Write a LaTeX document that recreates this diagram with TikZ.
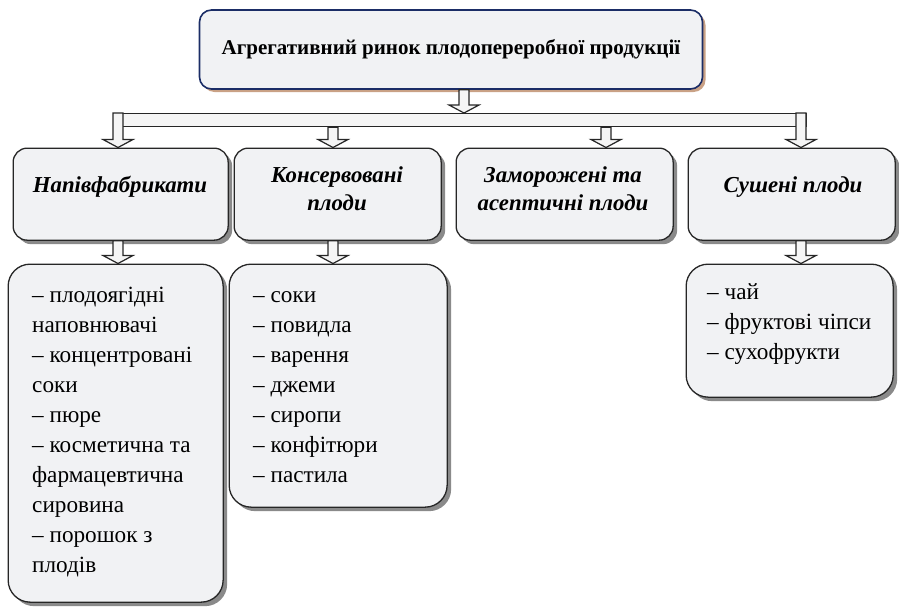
\documentclass[tikz,border=0pt]{standalone}
\usepackage{fontspec}
\setmainfont{Liberation Serif}
\usetikzlibrary{shadows,calc}
\definecolor{boxfill}{HTML}{F1F2F4}
\definecolor{navy}{HTML}{1B2D66}
\definecolor{tanshadow}{HTML}{C9A185}
\definecolor{shadowgray}{HTML}{8A8A8A}
\definecolor{arrowfill}{HTML}{F5F5F5}
\tikzset{
  topbox/.style={draw=navy, line width=1.6pt, fill=boxfill, rounded corners=12pt, inner sep=0pt,
    drop shadow={shadow xshift=3pt, shadow yshift=-3pt, fill=tanshadow, opacity=1},
    font=\fontsize{21}{25}\selectfont\bfseries},
  catbox/.style={draw=black!85, line width=1.3pt, fill=boxfill, rounded corners=14pt, inner sep=0pt,
    anchor=north west,
    drop shadow={shadow xshift=4pt, shadow yshift=-4pt, fill=shadowgray, opacity=1}},
  detbox/.style={catbox, rounded corners=22pt},
  cattext/.style={font=\fontsize{22.8}{28}\selectfont\bfseries\itshape, align=center, inner sep=0pt},
  dettext/.style={font=\fontsize{23.2}{30}\selectfont, align=left, inner sep=0pt, anchor=base west},
  bandbox/.style={draw=black!85, line width=1.3pt, fill=arrowfill, inner sep=0pt, anchor=north west},
  harrowstyle/.style={draw=black!85, fill=arrowfill, line width=1.2pt, line join=miter}
}
\newcommand{\harrow}[2]{%
  \path[harrowstyle] let \p1=(#1), \p2=(#2) in
    ({\x1-5pt},\y1) -- ({\x1+5pt},\y1) -- ({\x1+5pt},{\y2+8pt}) -- ({\x1+15pt},{\y2+8pt})
    -- (\x1,\y2) -- ({\x1-15pt},{\y2+8pt}) -- ({\x1-5pt},{\y2+8pt}) -- cycle;}
\begin{document}
\begin{tikzpicture}[x=1pt,y=-1pt]
\useasboundingbox (0,0) rectangle (899,606);
% top box
\node[topbox, minimum width=503pt, minimum height=79pt] (top) at (451,49.5)
  {Агрегативний ринок плодопереробної продукції};
% band
\node[bandbox, minimum width=693pt, minimum height=13pt] (band) at (113,113) {};
% category boxes
\node[catbox, minimum width=215pt, minimum height=92pt] (cat1) at (12.5,147.5) {};
\node[catbox, minimum width=207pt, minimum height=92pt] (cat2) at (233.5,147.5) {};
\node[catbox, minimum width=217pt, minimum height=92pt] (cat3) at (455.5,147.5) {};
\node[catbox, minimum width=207pt, minimum height=92pt] (cat4) at (687.5,147.5) {};
\node[cattext] (t1) at (120,187) {Напівфабрикати};
\node[cattext] (t2) at (337,189) {Консервовані\\плоди};
\node[cattext] (t3) at (563,189) {Заморожені та\\асептичні плоди};
\node[cattext] (t4) at (793,187) {Сушені плоди};
% detail boxes
\node[detbox, minimum width=215pt, minimum height=338pt] (det1) at (7.5,263.5) {};
\node[detbox, minimum width=218pt, minimum height=243pt] (det2) at (228.5,263.5) {};
\node[detbox, minimum width=207pt, minimum height=133pt] (det4) at (685.5,263.5) {};
\node[dettext] (d1) at (32,572) {– плодоягідні\\наповнювачі\\– концентровані\\соки\\– пюре\\– косметична та\\фармацевтична\\сировина\\– порошок з\\плодів};
\node[dettext] (d2) at (253,482) {– соки\\– повидла\\– варення\\– джеми\\– сиропи\\– конфітюри\\– пастила};
\node[dettext] (d4) at (707,359) {– чай\\– фруктові чіпси\\– сухофрукти};
% arrow x positions
\coordinate (x0) at (464,0);
\coordinate (x1) at (118,0);
\coordinate (x2) at (333,0);
\coordinate (x3) at (606,0);
\coordinate (x4) at (801,0);
% arrows
\harrow{top.south -| x0}{band.north -| x0}
\harrow{band.north -| x1}{cat1.north -| x1}
\harrow{band.south -| x2}{cat2.north -| x2}
\harrow{band.south -| x3}{cat3.north -| x3}
\harrow{band.north -| x4}{cat4.north -| x4}
\harrow{cat1.south -| x1}{det1.north -| x1}
\harrow{cat2.south -| x2}{det2.north -| x2}
\harrow{cat4.south -| x4}{det4.north -| x4}
\end{tikzpicture}
\end{document}
